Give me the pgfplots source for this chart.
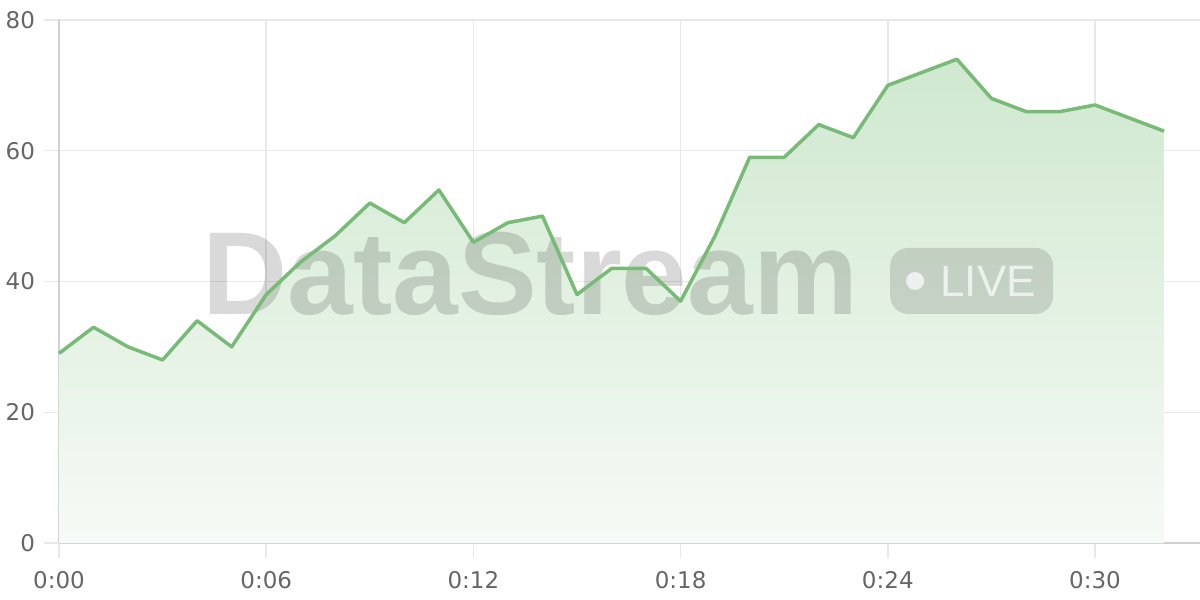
\documentclass[border=0pt]{standalone}
\usepackage{fontspec}
\setmainfont{Liberation Sans}
\newfontfamily\tickfont{DejaVu Sans}
\usepackage{pgfplots}
\pgfplotsset{compat=1.18}
\definecolor{lineGreen}{HTML}{77BB77}
\definecolor{fillTop}{HTML}{CFE8CF}
\definecolor{fillBot}{HTML}{F6FAF6}
\definecolor{gridGray}{HTML}{E8E8E8}
\definecolor{axisGray}{HTML}{D0D0D0}
\definecolor{tickText}{HTML}{666666}
\begin{document}
\begin{tikzpicture}
\begin{axis}[
  scale only axis,
  width=570.5pt, height=261.5pt,
  xmin=0, xmax=33.04, ymin=0, ymax=80,
  axis x line*=bottom, axis y line*=left,
  axis line style={draw=axisGray, line width=0.75pt, -},
  xtick={0,6,12,18,24,30},
  xticklabels={0:00,0:06,0:12,0:18,0:24,0:30},
  ytick={0,20,40,60,80},
  grid=major,
  major grid style={draw=gridGray, line width=0.75pt},
  tick align=outside,
  major tick length=7.5pt,
  major tick style={draw=gridGray, line width=0.75pt},
  tick label style={font=\tickfont\fontsize{11.5}{13}\selectfont, text=tickText},
  /pgf/number format/assume math mode=true,
  xticklabel style={yshift=-3pt},
  yticklabel style={xshift=-1pt},
  clip=false,
]
\addplot[draw=none, top color=fillTop, bottom color=fillBot] coordinates {
(0,29)(1,33)(2,30)(3,28)(4,34)(5,30)(6,38)(7,43)(8,47)(9,52)(10,49)(11,54)
(12,46)(13,49)(14,50)(15,38)(16,42)(17,42)(18,37)(19,47)(20,59)(21,59)
(22,64)(23,62)(24,70)(25,72)(26,74)(27,68)(28,66)(29,66)(30,67)(31,65)(32,63)
} \closedcycle;
\node[anchor=base west, inner sep=0pt, text=black, text opacity=0.15,
      font=\fontsize{59}{60}\selectfont\bfseries] at (axis cs:4.14,34.9) {DataStream};
\node[fill=black, fill opacity=0.13, rounded corners=9pt, minimum width=81.5pt,
      minimum height=33pt, inner sep=0pt] at (axis cs:26.43,40.08) {};
\node[circle, fill=white, fill opacity=0.7, minimum size=9pt, inner sep=0pt]
      at (axis cs:24.79,40.08) {};
\node[anchor=base west, inner sep=0pt, text=white, text opacity=0.7,
      font=\fontsize{22}{24}\selectfont] at (axis cs:25.51,37.63) {LIVE};
\addplot[color=lineGreen, line width=1.75pt, line join=round] coordinates {
(0,29)(1,33)(2,30)(3,28)(4,34)(5,30)(6,38)(7,43)(8,47)(9,52)(10,49)(11,54)
(12,46)(13,49)(14,50)(15,38)(16,42)(17,42)(18,37)(19,47)(20,59)(21,59)
(22,64)(23,62)(24,70)(25,72)(26,74)(27,68)(28,66)(29,66)(30,67)(31,65)(32,63)
};
\end{axis}
\pgfresetboundingbox
\path (-29.5pt,-28.5pt) rectangle (570.5pt,271.5pt);
\end{tikzpicture}
\end{document}
